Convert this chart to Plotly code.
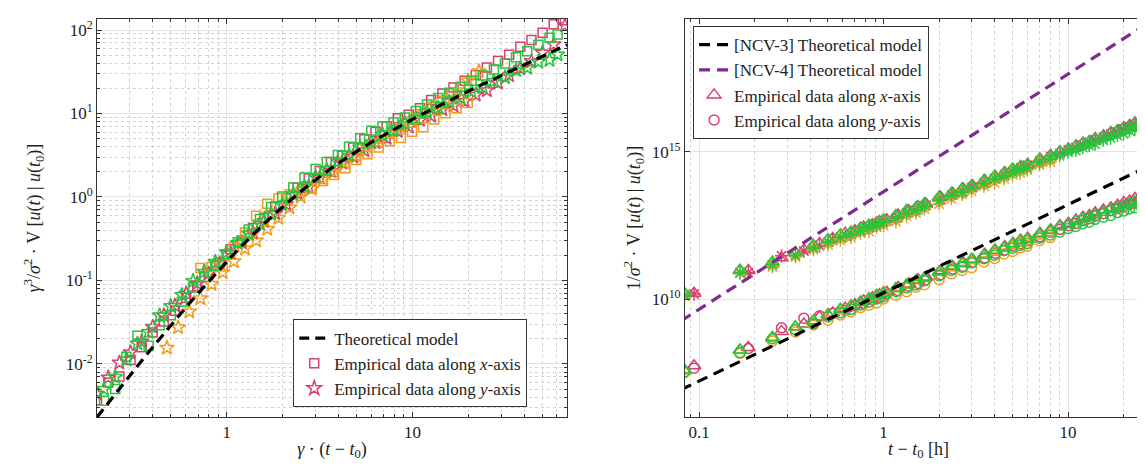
import plotly.graph_objects as go

FONT = "Liberation Serif"
PINK = "#d6426f"
ORANGE = "#f59b1c"
GREEN = "#27c43d"
PURPLE = "#7d2b8f"
AXC = "#333333"

# ---------------- Left panel data ----------------
theory_x = [0.2, 0.23, 0.264, 0.303, 0.348, 0.399, 0.458, 0.526, 0.604, 0.693, 0.796, 0.914, 1.05, 1.205,
            1.384, 1.589, 1.824, 2.094, 2.405, 2.761, 3.17, 3.639, 4.179, 4.798, 5.508, 6.325, 7.262, 8.337,
            9.573, 10.99, 12.62, 14.49, 16.64, 19.1, 21.93, 25.18, 28.91, 33.19, 38.11, 43.76, 50.24, 57.68,
            66.23, 68.0]
theory_y = [0.0023, 0.003425, 0.005054, 0.007432, 0.010911, 0.015865, 0.02304, 0.03331, 0.04785, 0.06808,
            0.0965, 0.13547, 0.18865, 0.25948, 0.35363, 0.47643, 0.63374, 0.8328, 1.0815, 1.3854, 1.7531,
            2.1912, 2.7095, 3.3145, 4.0161, 4.8286, 5.7634, 6.8375, 8.0732, 9.49, 11.12, 12.99, 15.14, 17.6,
            20.43, 23.68, 27.41, 31.69, 36.61, 42.26, 48.74, 56.18, 64.73, 66.5]

pink_x = [0.2, 0.23, 0.264, 0.303, 0.348, 0.399, 0.458, 0.526, 0.604, 0.693, 0.796, 0.914, 1.05, 1.205,
          1.384, 1.589, 1.824, 2.094, 2.405, 2.761, 3.17, 3.639, 4.179, 4.798, 5.508, 6.325, 7.262, 8.337,
          9.573, 10.99, 12.62, 14.49, 16.64, 19.1, 21.93, 25.18, 28.91, 33.19, 38.11, 43.76, 50.24, 57.68, 66.23]
pink_sq = [0.00368, 0.00599, 0.00708, 0.01115, 0.01582, 0.0238, 0.0323, 0.0433, 0.0622, 0.0851, 0.1255,
           0.1626, 0.2358, 0.2984, 0.4244, 0.5622, 0.7732, 0.9577, 1.298, 1.663, 2.051, 2.629, 3.116, 3.911,
           4.900, 6.036, 7.031, 8.752, 9.688, 11.58, 14.46, 17.41, 20.44, 24.64, 29.01, 35.52, 42.49, 50.70,
           62.97, 76.07, 92.61, 116.9, 130.8]
pink_st = [0.00437, 0.00685, 0.01036, 0.01375, 0.01855, 0.02776, 0.03802, 0.04997, 0.06938, 0.09191, 0.1206,
           0.1599, 0.2113, 0.2854, 0.3713, 0.5145, 0.6337, 0.8161, 1.103, 1.316, 1.701, 2.038, 2.574, 3.049,
           3.615, 4.491, 5.072, 6.154, 6.943, 8.351, 9.341, 11.17, 12.41, 14.08, 16.75, 18.94, 23.30, 28.52,
           34.78, 42.26, 53.61, 67.42, 113.3]

green_x = [0.218, 0.2507, 0.2878, 0.3303, 0.3793, 0.4349, 0.4992, 0.5733, 0.6584, 0.7554, 0.8676, 0.9963,
           1.1445, 1.3135, 1.5086, 1.732, 1.9882, 2.2825, 2.6215, 3.0095, 3.4553, 3.9665, 4.5551, 5.2298,
           6.0037, 6.8943, 7.9156, 9.0873, 10.435, 11.979, 13.756, 15.794, 18.138, 20.819, 23.904, 27.446,
           31.512, 36.177, 41.54, 47.698, 54.762, 60.5]
green_sq = [0.003625, 0.005019, 0.01221, 0.02171, 0.01653, 0.02902, 0.03826, 0.05552, 0.08226, 0.1100,
            0.1502, 0.2065, 0.2876, 0.4090, 0.5450, 0.7569, 1.014, 1.294, 1.716, 2.166, 2.619, 3.176, 3.994,
            5.043, 6.216, 7.009, 7.822, 8.948, 10.72, 12.78, 15.31, 17.72, 20.95, 24.72, 28.44, 33.72, 39.60,
            47.15, 55.65, 66.51, 80.94, 88.5]
green_st = [0.00501, 0.00698, 0.01125, 0.01746, 0.02411, 0.03803, 0.04928, 0.06679, 0.09835, 0.1269,
            0.1669, 0.2165, 0.2807, 0.3618, 0.4769, 0.6260, 0.8114, 1.078, 1.325, 1.733, 2.095, 2.651,
            3.133, 3.923, 4.505, 5.553, 6.283, 7.583, 8.661, 10.37, 11.64, 13.86, 15.46, 18.35, 20.61,
            24.38, 27.00, 32.94, 35.23, 41.57, 43.67, 50.74]

orange_x = [0.4763, 0.547, 0.6282, 0.7207, 0.8278, 0.9506, 1.092, 1.2532, 1.4394, 1.6526, 1.897, 2.1778,
            2.5012, 2.8714, 3.2968, 3.7846, 4.3462, 4.9899, 5.7283, 6.578, 7.5525, 8.6705, 9.9559, 11.43,
            13.125, 15.07, 17.306, 19.864, 22.807]
orange_sq_x = [0.7207, 0.8278, 0.9506, 1.092, 1.2532, 1.4394, 1.6526, 1.897, 2.1778, 2.5012, 2.8714,
               3.2968, 3.7846, 4.3462, 4.9899, 5.7283, 6.578, 7.5525, 8.6705, 9.9559, 11.43, 13.125, 15.07,
               17.306, 19.864]
orange_sq = [0.1408, 0.1445, 0.1472, 0.2520, 0.3740, 0.5966, 0.8266, 0.9588, 1.076, 1.160, 1.259, 1.550,
             1.839, 2.209, 2.765, 3.259, 3.910, 4.658, 5.089, 6.026, 6.849, 8.485, 10.04, 11.54, 13.40]
orange_st = [0.0156, 0.02732, 0.04231, 0.06089, 0.09032, 0.1250, 0.1693, 0.2408, 0.3002, 0.4133, 0.5616,
             0.7445, 1.009, 1.259, 1.644, 2.002, 2.554, 3.150, 3.936, 4.570, 5.747, 6.953, 8.453, 10.42,
             12.79, 15.20, 18.96, 24.79, 31.96]

# ---------------- Right panel data ----------------
ncv_x = [0.08, 0.1, 1.0, 10.0, 30.0]
ncv3_y = [8.3e6, 1.62e7, 1.62e10, 1.62e13, 4.37e14]
ncv4_y = [1.83e9, 4.47e9, 4.47e13, 4.47e17, 3.61e19]

t_go = [0.0833, 0.1667, 0.25, 0.3333, 0.4167, 0.5, 0.5833, 0.6667, 0.75, 0.8333, 0.9167, 1.0, 1.1667,
        1.3333, 1.5, 1.6667, 2.0, 2.333, 2.667, 3.0, 3.5, 4.0, 4.5, 5.0, 5.5, 6.0, 7.0, 8.0, 9.0, 10.0,
        11.0, 12.0, 13.0, 14.0, 15.5, 17.0, 18.5, 20.0, 21.5, 23.0, 24.5, 26.0]
t_orange = [0.0833, 0.1667, 0.25, 0.3333, 0.4167, 0.5, 0.5833, 0.6667, 0.75, 0.8333, 0.9167, 1.0, 1.1667,
            1.3333, 1.5, 1.6667, 2.0, 2.333, 2.667, 3.0, 3.5, 4.0, 4.5, 5.0, 5.5, 6.0, 7.0, 8.0]
t_pink = [0.094, 0.185, 0.28, 0.37, 0.45, 0.53, 0.62, 0.7, 0.78, 0.87, 0.95, 1.04, 1.2, 1.37, 1.54, 1.7,
          2.04, 2.37, 2.7, 3.04, 3.54, 4.04, 4.54, 5.04, 5.54, 6.04, 7.04, 8.04, 9.04, 10.04, 11.04, 12.04,
          13.04, 14.04, 15.54, 17.04, 18.54, 20.04, 21.54, 23.04, 24.54, 26.04, 27.5, 29.0]

g_up_tri = [1.58e10, 9.55e10, 1.82e11, 3.72e11, 6.76e11, 1.05e12, 1.55e12, 1.91e12, 2.63e12, 3.31e12,
            3.80e12, 5.01e12, 6.92e12, 1.02e13, 1.29e13, 1.78e13, 2.95e13, 3.98e13, 5.62e13, 7.08e13,
            1.07e14, 1.51e14, 1.91e14, 2.63e14, 3.09e14, 3.63e14, 5.50e14, 7.24e14, 1.02e15, 1.23e15,
            1.55e15, 1.95e15, 2.19e15, 2.69e15, 3.31e15, 4.37e15, 5.01e15, 6.17e15, 7.08e15, 8.91e15,
            9.77e15, 1.07e16]
g_up_ast = [1.35e10, 7.94e10, 1.48e11, 3.09e11, 5.50e11, 8.51e11, 1.26e12, 1.55e12, 2.14e12, 2.69e12,
            3.16e12, 4.07e12, 5.62e12, 8.32e12, 1.05e13, 1.45e13, 2.24e13, 3.39e13, 4.27e13, 6.03e13,
            8.51e13, 1.23e14, 1.51e14, 2.04e14, 2.45e14, 2.88e14, 4.37e14, 5.75e14, 7.41e14, 9.77e14,
            1.12e15, 1.41e15, 1.66e15, 1.86e15, 2.51e15, 2.95e15, 3.63e15, 4.17e15, 5.25e15, 5.75e15,
            6.92e15, 7.76e15]
o_up_tri = [1.41e10, 9.33e10, 1.51e11, 3.80e11, 6.03e11, 1.00e12, 1.48e12, 1.78e12, 2.51e12, 2.95e12,
            3.98e12, 4.47e12, 6.61e12, 1.02e13, 1.23e13, 1.70e13, 2.63e13, 3.63e13, 5.25e13, 6.76e13,
            1.00e14, 1.32e14, 1.86e14, 2.29e14, 2.88e14, 3.39e14, 4.90e14, 6.76e14]
o_up_ast = [1.26e10, 7.41e10, 1.26e11, 2.69e11, 4.79e11, 6.92e11, 1.00e12, 1.26e12, 1.74e12, 2.00e12,
            2.75e12, 3.16e12, 4.27e12, 6.61e12, 8.32e12, 1.15e13, 1.70e13, 2.57e13, 3.63e13, 4.57e13,
            6.92e13, 8.91e13, 1.23e14, 1.66e14, 1.91e14, 2.45e14, 3.63e14, 4.57e14]
p_up_tri = [1.58e10, 9.33e10, 2.51e11, 4.68e11, 7.76e11, 1.15e12, 1.74e12, 2.09e12, 2.82e12, 3.39e12,
            4.37e12, 5.01e12, 7.24e12, 1.00e13, 1.41e13, 1.70e13, 2.88e13, 3.98e13, 5.62e13, 7.08e13,
            1.07e14, 1.45e14, 2.00e14, 2.45e14, 3.24e14, 3.80e14, 5.75e14, 7.59e14, 1.02e15, 1.26e15,
            1.62e15, 2.00e15, 2.29e15, 2.88e15, 3.55e15, 4.57e15, 5.37e15, 6.76e15, 7.94e15, 9.77e15,
            1.07e16, 1.26e16, 1.58e16, 1.82e16]
p_up_ast = [1.48e10, 7.94e10, 2.95e11, 4.27e11, 6.46e11, 1.00e12, 1.38e12, 1.91e12, 2.34e12, 2.95e12,
            3.47e12, 4.57e12, 6.03e12, 8.71e12, 1.12e13, 1.55e13, 2.40e13, 3.47e13, 4.47e13, 6.46e13,
            8.91e13, 1.26e14, 1.70e14, 2.19e14, 2.82e14, 3.55e14, 4.90e14, 7.08e14, 8.91e14, 1.17e15,
            1.41e15, 1.78e15, 2.09e15, 2.57e15, 3.16e15, 4.07e15, 4.79e15, 6.03e15, 7.08e15, 8.71e15,
            9.77e15, 1.17e16, 1.41e16, 1.74e16]

g_lo_tri = [3.98e7, 1.86e8, 5.01e8, 1.15e9, 1.82e9, 2.95e9, 4.47e9, 5.75e9, 7.94e9, 1.00e10, 1.35e10,
            1.58e10, 2.29e10, 3.02e10, 4.27e10, 5.25e10, 8.32e10, 1.29e11, 1.62e11, 2.24e11, 3.16e11,
            4.57e11, 5.62e11, 7.59e11, 9.77e11, 1.10e12, 1.62e12, 2.14e12, 2.88e12, 3.39e12, 4.37e12,
            5.50e12, 6.03e12, 7.41e12, 8.91e12, 1.12e13, 1.23e13, 1.51e13, 1.70e13, 2.04e13, 2.19e13, 2.34e13]
g_lo_circ = [3.31e7, 1.51e8, 4.47e8, 9.12e8, 1.45e9, 2.45e9, 3.39e9, 4.47e9, 6.31e9, 7.76e9, 1.00e10,
             1.20e10, 1.82e10, 2.40e10, 3.02e10, 4.17e10, 6.17e10, 9.33e10, 1.20e11, 1.70e11, 2.34e11,
             3.09e11, 4.37e11, 5.37e11, 6.76e11, 7.76e11, 1.17e12, 1.51e12, 1.86e12, 2.51e12, 2.95e12,
             3.63e12, 4.07e12, 5.13e12, 6.03e12, 6.92e12, 8.71e12, 9.77e12, 1.15e13, 1.26e13, 1.51e13, 1.58e13]
o_lo_tri = [3.55e7, 1.82e8, 4.47e8, 1.10e9, 1.74e9, 2.95e9, 4.07e9, 6.03e9, 7.59e9, 1.05e10, 1.26e10,
            1.70e10, 2.29e10, 3.09e10, 4.27e10, 5.13e10, 8.32e10, 1.15e11, 1.62e11, 2.00e11, 3.02e11,
            3.89e11, 5.37e11, 6.46e11, 8.32e11, 9.33e11, 1.38e12, 1.82e12]
o_lo_circ = [3.16e7, 1.41e8, 3.72e8, 7.59e8, 1.32e9, 1.91e9, 2.88e9, 3.72e9, 5.13e9, 6.17e9, 7.41e9,
             1.00e10, 1.35e10, 1.78e10, 2.51e10, 3.09e10, 4.57e10, 7.24e10, 9.33e10, 1.17e11, 1.82e11,
             2.40e11, 3.39e11, 4.17e11, 5.50e11, 6.31e11, 9.55e11, 1.23e12]
p_lo_tri = [5.37e7, 2.24e8, 7.94e8, 1.41e9, 2.45e9, 3.39e9, 4.90e9, 6.46e9, 8.71e9, 1.10e10, 1.41e10,
            1.70e10, 2.45e10, 3.31e10, 4.57e10, 5.62e10, 9.12e10, 1.29e11, 1.74e11, 2.19e11, 3.31e11,
            4.47e11, 6.17e11, 7.76e11, 1.00e12, 1.17e12, 1.74e12, 2.29e12, 3.09e12, 3.80e12, 4.90e12,
            6.03e12, 6.92e12, 8.51e12, 1.07e13, 1.26e13, 1.55e13, 1.91e13, 2.14e13, 2.63e13, 2.88e13,
            3.39e13, 3.98e13, 4.47e13]
p_lo_circ = [4.47e7, 2.09e8, 1.05e9, 2.24e9, 2.69e9, 3.31e9, 4.17e9, 5.89e9, 7.08e9, 9.55e9, 1.10e10,
             1.45e10, 1.91e10, 2.75e10, 3.39e10, 4.47e10, 6.76e10, 1.05e11, 1.29e11, 1.78e11, 2.51e11,
             3.63e11, 4.68e11, 6.31e11, 7.59e11, 9.55e11, 1.32e12, 1.86e12, 2.34e12, 3.09e12, 3.72e12,
             4.68e12, 5.37e12, 6.61e12, 7.94e12, 1.00e13, 1.20e13, 1.38e13, 1.66e13, 1.86e13, 2.19e13,
             2.45e13, 2.82e13, 3.16e13]

# ---------------- Ticks ----------------
left_xticks = [1, 10]
left_xtext = ["1", "10"]
left_xminor = [0.2, 0.3, 0.4, 0.5, 0.6, 0.7, 0.8, 0.9, 2, 3, 4, 5, 6, 7, 8, 9, 20, 30, 40, 50, 60]
left_yticks = [0.01, 0.1, 1, 10, 100]
left_ytext = ["10<sup>-2</sup>", "10<sup>-1</sup>", "10<sup>0</sup>", "10<sup>1</sup>", "10<sup>2</sup>"]
left_yminor = [0.003, 0.004, 0.005, 0.006, 0.007, 0.008, 0.009,
               0.02, 0.03, 0.04, 0.05, 0.06, 0.07, 0.08, 0.09,
               0.2, 0.3, 0.4, 0.5, 0.6, 0.7, 0.8, 0.9,
               2, 3, 4, 5, 6, 7, 8, 9, 20, 30, 40, 50, 60, 70, 80, 90]
right_xticks = [0.1, 1, 10]
right_xtext = ["0.1", "1", "10"]
right_xminor = [0.09, 0.2, 0.3, 0.4, 0.5, 0.6, 0.7, 0.8, 0.9, 2, 3, 4, 5, 6, 7, 8, 9, 20]
right_yticks = [1e10, 1e15]
right_ytext = ["10<sup>10</sup>", "10<sup>15</sup>"]

fig = go.Figure()


def add_pts(x, y, symbol, color, size, xa, ya, name=None, legend=None, rank=None, lw=1.5):
    fig.add_trace(go.Scatter(
        x=x, y=y, mode="markers", xaxis=xa, yaxis=ya,
        marker=dict(symbol=symbol, size=size, color=color, line=dict(color=color, width=lw)),
        name=name if name else "", showlegend=name is not None,
        legend=legend if legend else "legend",
        legendrank=rank if rank else 1000,
        hoverinfo="skip"))


# left panel
add_pts(pink_x, pink_sq, "square-open", PINK, 9, "x", "y", "Empirical data along <i>x</i>-axis", "legend", 2)
add_pts(pink_x, pink_st, "star-open", PINK, 11, "x", "y", "Empirical data along <i>y</i>-axis", "legend", 3)
add_pts(orange_sq_x, orange_sq, "square-open", ORANGE, 9, "x", "y")
add_pts(orange_x, orange_st, "star-open", ORANGE, 11, "x", "y")
add_pts(green_x, green_sq, "square-open", GREEN, 9, "x", "y")
add_pts(green_x, green_st, "star-open", GREEN, 11, "x", "y")
fig.add_trace(go.Scatter(x=theory_x, y=theory_y, mode="lines", xaxis="x", yaxis="y",
                         line=dict(color="black", width=3.2, dash="10px,6px"),
                         name="Theoretical model", legend="legend", legendrank=1, hoverinfo="skip"))

# right panel
add_pts(t_pink, p_up_tri, "triangle-up-open", PINK, 12, "x2", "y2")
add_pts(t_pink, p_up_ast, "asterisk-open", PINK, 11, "x2", "y2")
add_pts(t_pink, p_lo_tri, "triangle-up-open", PINK, 12, "x2", "y2", "Empirical data along <i>x</i>-axis", "legend2", 3)
add_pts(t_pink, p_lo_circ, "circle-open", PINK, 10, "x2", "y2", "Empirical data along <i>y</i>-axis", "legend2", 4)
add_pts(t_orange, o_up_tri, "triangle-up-open", ORANGE, 12, "x2", "y2")
add_pts(t_orange, o_up_ast, "asterisk-open", ORANGE, 11, "x2", "y2")
add_pts(t_orange, o_lo_tri, "triangle-up-open", ORANGE, 12, "x2", "y2")
add_pts(t_orange, o_lo_circ, "circle-open", ORANGE, 10, "x2", "y2")
add_pts(t_go, g_up_tri, "triangle-up-open", GREEN, 12, "x2", "y2")
add_pts(t_go, g_up_ast, "asterisk-open", GREEN, 11, "x2", "y2")
add_pts(t_go, g_lo_tri, "triangle-up-open", GREEN, 12, "x2", "y2")
add_pts(t_go, g_lo_circ, "circle-open", GREEN, 10, "x2", "y2")
fig.add_trace(go.Scatter(x=ncv_x, y=ncv3_y, mode="lines", xaxis="x2", yaxis="y2",
                         line=dict(color="black", width=3.2, dash="11px,7px"),
                         name="[NCV-3] Theoretical model", legend="legend2", legendrank=1, hoverinfo="skip"))
fig.add_trace(go.Scatter(x=ncv_x, y=ncv4_y, mode="lines", xaxis="x2", yaxis="y2",
                         line=dict(color=PURPLE, width=3.2, dash="11px,7px"),
                         name="[NCV-4] Theoretical model", legend="legend2", legendrank=2, hoverinfo="skip"))

tickfont = dict(family=FONT, size=17, color="#222")
titlefont = dict(family=FONT, size=18, color="#222")


def axis(domain, rng, tickvals, ticktext, minor_vals, title, anchor, standoff, lab_off):
    d = dict(domain=domain, type="log", range=rng, anchor=anchor,
             tickmode="array", tickvals=tickvals, ticktext=ticktext, tickfont=tickfont,
             ticks="inside", ticklen=5, tickwidth=1, tickcolor=AXC, ticklabelstandoff=lab_off,
             showline=True, linecolor=AXC, linewidth=1, mirror="allticks",
             showgrid=True, gridcolor="#e2e2e2", gridwidth=1.2, zeroline=False,
             title=dict(text=title, font=titlefont, standoff=standoff))
    if minor_vals:
        d["minor"] = dict(tickmode="array", tickvals=minor_vals, ticks="inside", ticklen=3,
                          tickcolor=AXC, showgrid=True, gridcolor="#d2d2d2", griddash="dot", gridwidth=1)
    return d


legend_common = dict(bgcolor="white", bordercolor=AXC, borderwidth=1,
                     font=dict(family=FONT, size=17, color="#222"), xanchor="left", yanchor="top",
                     tracegroupgap=0, itemclick=False)

fig.update_layout(
    width=1145, height=466,
    margin=dict(l=89, r=1, t=11, b=57),
    paper_bgcolor="white", plot_bgcolor="white",
    font=dict(family=FONT),
    xaxis=axis([0, 0.4455], [-0.699, 1.8325], left_xticks, left_xtext, left_xminor,
               "<i>γ</i> · (<i>t</i> − <i>t</i><sub>0</sub>)", "y", 0, 0),
    yaxis=axis([0, 1], [-2.636, 2.132], left_yticks, left_ytext, left_yminor,
               "<i>γ</i><sup>3</sup>/<i>σ</i><sup>2</sup> · V [<i>u</i>(<i>t</i>) | <i>u</i>(<i>t</i><sub>0</sub>)]",
               "x", 20, 0),
    xaxis2=axis([0.5573, 1], [-1.0762, 1.4548], right_xticks, right_xtext, right_xminor,
                "<i>t</i> − <i>t</i><sub>0</sub> [h]", "y2", 0, 0),
    yaxis2=axis([0, 1], [5.99, 19.52], right_yticks, right_ytext, None,
                "1/<i>σ</i><sup>2</sup> · V [<i>u</i>(<i>t</i>) | <i>u</i>(<i>t</i><sub>0</sub>)]", "x2", 6, 0),
    legend=dict(x=0.186, y=0.245, **legend_common),
    legend2=dict(x=0.565, y=0.982, **legend_common),
)

fig.write_html("out.html")
